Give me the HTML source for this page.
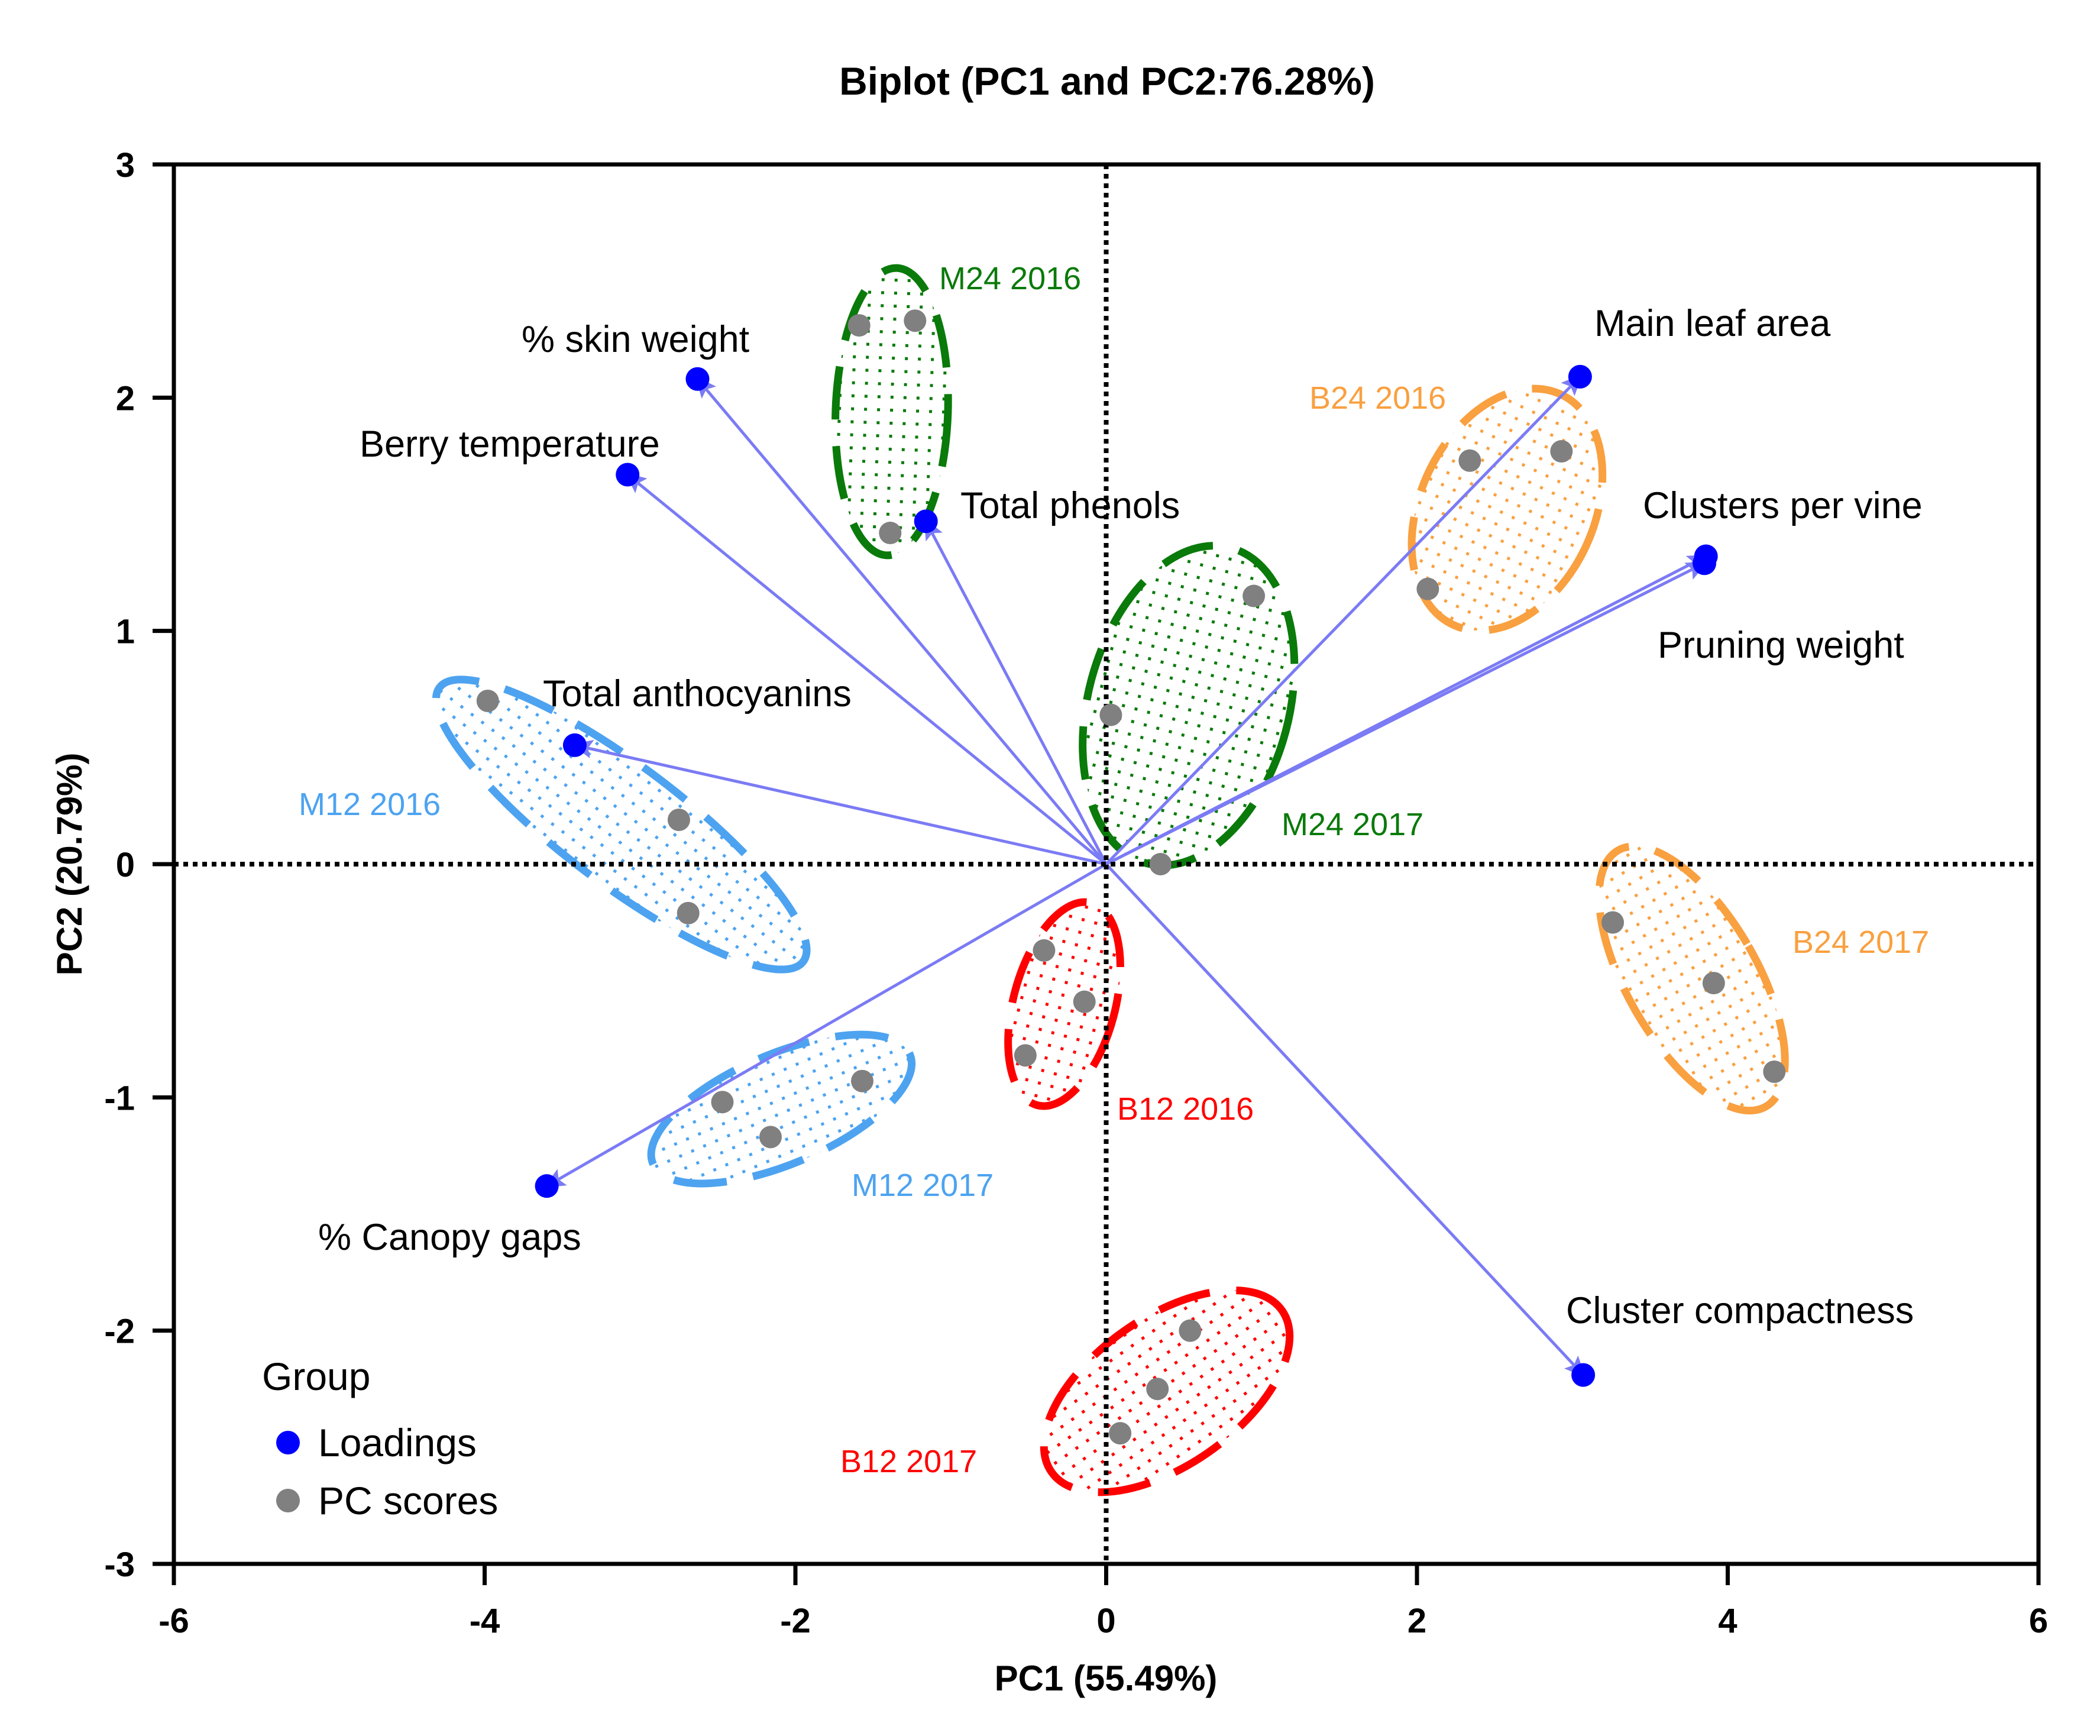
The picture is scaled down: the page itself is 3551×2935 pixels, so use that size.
<!DOCTYPE html>
<html><head><meta charset="utf-8"><style>
html,body{margin:0;padding:0;background:#fff}
svg{display:block}
text{font-family:"Liberation Sans",Arial,sans-serif}
</style></head><body>
<svg id="chart" width="3551" height="2935" viewBox="0 0 3551 2935" xmlns="http://www.w3.org/2000/svg">
<defs>
<pattern id="p-green" width="22" height="22" patternUnits="userSpaceOnUse"><rect x="9" y="9" width="5" height="5" fill="#0a7a0a"/></pattern>
<pattern id="p-orange" width="22" height="22" patternUnits="userSpaceOnUse"><rect x="9" y="9" width="5" height="5" fill="#f9a040"/></pattern>
<pattern id="p-blue" width="22" height="22" patternUnits="userSpaceOnUse"><rect x="9" y="9" width="5" height="5" fill="#4da3f0"/></pattern>
<pattern id="p-red" width="22" height="22" patternUnits="userSpaceOnUse"><rect x="9" y="9" width="5" height="5" fill="#ff0000"/></pattern>
<marker id="arrow" markerWidth="36" markerHeight="32" refX="30" refY="16" orient="auto" markerUnits="userSpaceOnUse" viewBox="0 0 36 32">
<path d="M0,0 L36,16 L0,32 L7,16 z" fill="#7b7bf5"/></marker>
</defs>
<g id="ellipses"></g>
<g id="arrows"></g>
<g id="zero-lines"></g>
<g id="points"></g>
<g id="axes"></g>
<g id="labels"></g>
<text x="1872" y="160" font-size="66" font-weight="bold" text-anchor="middle">Biplot (PC1 and PC2:76.28%)</text>
<text x="1870" y="2858" font-size="60" font-weight="bold" text-anchor="middle">PC1 (55.49%)</text>
<text transform="translate(138,1461) rotate(-90)" font-size="60" font-weight="bold" text-anchor="middle">PC2 (20.79%)</text>
<g>
<text x="443" y="2350" font-size="66">Group</text>
<circle cx="487" cy="2439" r="20" fill="#0000ff"/>
<text x="538" y="2462" font-size="66">Loadings</text>
<circle cx="487" cy="2537" r="20" fill="#808080"/>
<text x="538" y="2560" font-size="66">PC scores</text>
</g>
</svg>
<script>
const NS='http://www.w3.org/2000/svg';
const xTicks=[-6,-4,-2,0,2,4,6];
const yTicks=[-3,-2,-1,0,1,2,3];
const loadNames=['% skin weight','Berry temperature','Total phenols','Total anthocyanins','Main leaf area','Clusters per vine','Pruning weight','% Canopy gaps','Cluster compactness'];
const loadX=[-2.63,-3.08,-1.16,-3.42,3.05,3.86,3.85,-3.60,3.07];
const loadY=[2.08,1.67,1.47,0.51,2.09,1.32,1.29,-1.38,-2.19];
const scoreX=[-1.59,-1.23,-1.39, 0.95,0.03,0.35, 2.34,2.93,2.07, 3.26,3.91,4.30, -3.98,-2.75,-2.69, -1.57,-2.47,-2.16, -0.40,-0.14,-0.52, 0.54,0.33,0.09];
const scoreY=[2.31,2.33,1.42, 1.15,0.64,0.00, 1.73,1.77,1.18, -0.25,-0.51,-0.89, 0.70,0.19,-0.21, -0.93,-1.02,-1.17, -0.37,-0.59,-0.82, -2.00,-2.25,-2.44];
const groupNames=['M24 2016','M24 2017','B24 2016','B24 2017','M12 2016','M12 2017','B12 2016','B12 2017'];
const groupCX=[-1.38,0.53,2.58,3.77,-3.12,-2.09,-0.27,0.39];
const groupCY=[1.94,0.68,1.52,-0.49,0.17,-1.05,-0.60,-2.26];
const X0=294,X1=3447,Y0=2644,Y1=278;
function sx(v){return X0+(v+6)/12*(X1-X0);}
function sy(v){return Y0-(v+3)/6*(Y0-Y1);}
function mk(tag,attrs,parent){const e=document.createElementNS(NS,tag);for(const k in attrs)e.setAttribute(k,attrs[k]);parent.appendChild(e);return e;}
const colors={g:'#0a7a0a',o:'#f9a040',b:'#4da3f0',r:'#ff0000'};
const gStyle=[['g','p-green',95,243,2],['g','p-green',170,276,15],['o','p-orange',147,215,25],['o','p-orange',110,250,-30],['b','p-blue',385,100,37],['b','p-blue',236,93,-23],['r','p-red',86,177,15],['r','p-red',238,125,-35]];
const labelPos=[[1588,489],[2167,1412],[2214,691],[3031,1611],[505,1378],[1440,2022],[1889,1893],[1421,2489]];
const eg=document.getElementById('ellipses');
groupNames.forEach((n,i)=>{
  const s=gStyle[i];const cx=sx(groupCX[i]),cy=sy(groupCY[i]);
  const e=mk('ellipse',{cx:cx,cy:cy,rx:s[2],ry:s[3],transform:`rotate(${s[4]} ${cx} ${cy})`,fill:`url(#${s[1]})`,stroke:colors[s[0]],'stroke-width':13,'stroke-dasharray':'90 45'},eg);
  
  
});
const ag=document.getElementById('arrows');
loadNames.forEach((n,i)=>{
  const l=mk('line',{x1:sx(0),y1:sy(0),x2:sx(loadX[i]),y2:sy(loadY[i]),stroke:'#7b7bf5','stroke-width':5,'marker-end':'url(#arrow)'},ag);
  
  
});
const zg=document.getElementById('zero-lines');
const zx=mk('line',{x1:X0,x2:X1,y1:sy(0),y2:sy(0),stroke:'#000','stroke-width':8,'stroke-dasharray':'8 8'},zg);


const zy=mk('line',{x1:sx(0),x2:sx(0),y1:Y1,y2:Y0,stroke:'#000','stroke-width':8,'stroke-dasharray':'8 8'},zg);


const pg=document.getElementById('points');
scoreX.forEach((v,i)=>{
  const c=mk('circle',{cx:sx(v),cy:sy(scoreY[i]),r:19,fill:'#808080'},pg);
  
  
});
loadX.forEach((v,i)=>{
  const c=mk('circle',{cx:sx(v),cy:sy(loadY[i]),r:20,fill:'#0000ff'},pg);
  
  
});
const ax=document.getElementById('axes');
const fr=mk('rect',{x:X0,y:Y1,width:X1-X0,height:Y0-Y1,fill:'none',stroke:'#000','stroke-width':7},ax);


xTicks.forEach(t=>{
  const l=mk('line',{x1:sx(t),x2:sx(t),y1:Y0,y2:Y0+36,stroke:'#000','stroke-width':7},ax);
  
  
  const tx=mk('text',{x:sx(t),y:2760,'font-size':58,'font-weight':'bold','text-anchor':'middle'},ax);
  tx.textContent=t;
  
  
});
yTicks.forEach(t=>{
  const l=mk('line',{x1:X0-36,x2:X0,y1:sy(t),y2:sy(t),stroke:'#000','stroke-width':7},ax);
  
  
  const tx=mk('text',{x:228,y:sy(t)+21,'font-size':58,'font-weight':'bold','text-anchor':'end'},ax);
  tx.textContent=t;
  
  
});
const lg=document.getElementById('labels');
const loadLabelPos=[[882,595],[608,772],[1624,876],[918,1194],[2696,568],[2778,876],[2803,1112],[538,2113],[2648,2237]];
loadNames.forEach((n,i)=>{
  const t=mk('text',{x:loadLabelPos[i][0],y:loadLabelPos[i][1],'font-size':63},lg);
  t.textContent=n;
  
  
});
groupNames.forEach((n,i)=>{
  const t=mk('text',{x:labelPos[i][0],y:labelPos[i][1],'font-size':54,fill:colors[gStyle[i][0]]},lg);
  t.textContent=n;
  
  
});
</script>
</body></html>
